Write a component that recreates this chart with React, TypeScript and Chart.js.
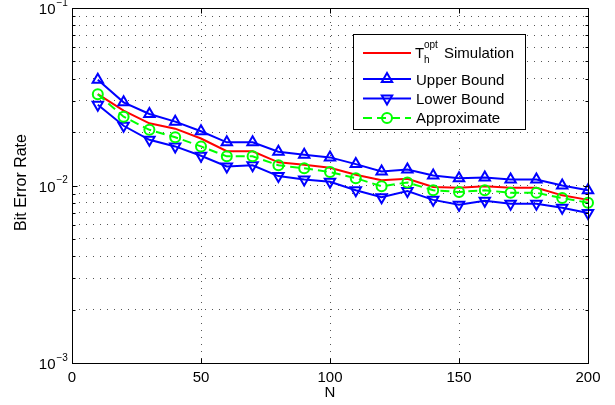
import React, { useEffect, useRef } from 'react';
import { Chart, registerables } from 'chart.js';

Chart.register(...registerables);

const nValues = [10, 20, 30, 40, 50, 60, 70, 80, 90, 100, 110, 120, 130, 140, 150, 160, 170, 180, 190, 200];
const simulation = [0.0327, 0.0264, 0.0224, 0.0209, 0.0184, 0.0156, 0.0156, 0.0135, 0.0131, 0.0126, 0.0115, 0.0107, 0.0109, 0.0098, 0.0097, 0.0099, 0.0097, 0.0097, 0.0088, 0.0083];
const upperBound = [0.0394, 0.0294, 0.0253, 0.0229, 0.0202, 0.0175, 0.0175, 0.0155, 0.0149, 0.0144, 0.0132, 0.0120, 0.0123, 0.0114, 0.0110, 0.0111, 0.0108, 0.0108, 0.0100, 0.0094];
const lowerBound = [0.0285, 0.0217, 0.0181, 0.0166, 0.0147, 0.0128, 0.0130, 0.0113, 0.0108, 0.0105, 0.0094, 0.0086, 0.0093, 0.0083, 0.0078, 0.0082, 0.0079, 0.0079, 0.0075, 0.0070];
const approximate = [0.0327, 0.0244, 0.0206, 0.0187, 0.0166, 0.0146, 0.0146, 0.0130, 0.0125, 0.0119, 0.0110, 0.0099, 0.0104, 0.0094, 0.0092, 0.0094, 0.0091, 0.0091, 0.0085, 0.0080];

const xTickValues = [0, 50, 100, 150, 200];
const yDecades = [1e-3, 1e-2, 1e-1];
const yExponentLabels = ['\u22123', '\u22122', '\u22121'];
const xAxisTitle = 'N';
const yAxisTitle = 'Bit Error Rate';
const legendLabels = ['Simulation', 'Upper Bound', 'Lower Bound', 'Approximate'];
const legendSymbol = { base: 'T', sup: 'opt', sub: 'h' };

const FONT = '"Liberation Sans", Arial, Helvetica, sans-serif';
const RED = '#ff0000';
const BLUE = '#0000ff';
const GREEN = '#00ff00';

const yGridValues: number[] = [];
for (let d = 0; d < yDecades.length - 1; d++) {
  for (let k = 1; k <= 9; k++) yGridValues.push(k * yDecades[d]);
}
yGridValues.push(yDecades[yDecades.length - 1]);

function toPoints(arr: number[]) {
  return nValues.map((n, i) => ({ x: n, y: arr[i] }));
}

function triangle(ctx: CanvasRenderingContext2D, x: number, y: number, r: number, down: boolean) {
  ctx.beginPath();
  let rad = down ? Math.PI : 0;
  for (let i = 0; i < 3; i++) {
    const px = x + Math.sin(rad) * r;
    const py = y - Math.cos(rad) * r;
    if (i === 0) ctx.moveTo(px, py);
    else ctx.lineTo(px, py);
    rad += (2 * Math.PI) / 3;
  }
  ctx.closePath();
  ctx.stroke();
}

const decorPlugin = {
  id: 'decor',
  afterDraw(chart: any) {
    const ctx: CanvasRenderingContext2D = chart.ctx;
    const area = chart.chartArea;
    const xs = chart.scales.x;
    const ys = chart.scales.y;
    ctx.save();
    // box
    ctx.strokeStyle = '#000';
    ctx.lineWidth = 1;
    ctx.setLineDash([]);
    const L = Math.round(area.left) + 0.5;
    const R = Math.round(area.right) + 0.5;
    const T = Math.round(area.top) + 0.5;
    const B = Math.round(area.bottom) + 0.5;
    ctx.strokeRect(L, T, R - L, B - T);
    // inner ticks
    ctx.beginPath();
    xTickValues.forEach((v) => {
      const px = Math.round(xs.getPixelForValue(v)) + 0.5;
      ctx.moveTo(px, B); ctx.lineTo(px, B - 5);
      ctx.moveTo(px, T); ctx.lineTo(px, T + 5);
    });
    yGridValues.forEach((v) => {
      const py = Math.round(ys.getPixelForValue(v)) + 0.5;
      const len = yDecades.includes(v) ? 5 : 3;
      ctx.moveTo(L, py); ctx.lineTo(L + len, py);
      ctx.moveTo(R, py); ctx.lineTo(R - len, py);
    });
    ctx.stroke();

    // y tick labels
    ctx.fillStyle = '#000';
    yDecades.forEach((v, i) => {
      const py = ys.getPixelForValue(v);
      ctx.font = `15px ${FONT}`;
      ctx.textAlign = 'right';
      ctx.textBaseline = 'alphabetic';
      ctx.fillText('10', 55.5, py + 6);
      ctx.font = `10px ${FONT}`;
      ctx.textAlign = 'left';
      ctx.fillText(yExponentLabels[i], 56.5, py - 2.5);
    });

    // axis titles
    ctx.font = `15px ${FONT}`;
    ctx.textAlign = 'center';
    ctx.textBaseline = 'middle';
    ctx.fillText(xAxisTitle, (area.left + area.right) / 2, 393);
    ctx.save();
    ctx.font = `16px ${FONT}`;
    ctx.translate(22, (area.top + area.bottom) / 2 - 3);
    ctx.rotate(-Math.PI / 2);
    ctx.fillText(yAxisTitle, 0, 0);
    ctx.restore();

    // legend
    const bx = 353.5, by = 34.5, bw = 172, bh = 95;
    ctx.fillStyle = '#fff';
    ctx.fillRect(bx, by, bw, bh);
    ctx.strokeStyle = '#000';
    ctx.lineWidth = 1;
    ctx.strokeRect(bx, by, bw, bh);
    const lx0 = 363, lx1 = 411, lxm = 387;
    const rowLineY = [53, 79, 98.5, 118];
    const rowBase = [58, 84.5, 104, 123];
    ctx.lineWidth = 2;
    ctx.strokeStyle = RED;
    ctx.beginPath(); ctx.moveTo(lx0, rowLineY[0]); ctx.lineTo(lx1, rowLineY[0]); ctx.stroke();
    ctx.strokeStyle = BLUE;
    ctx.beginPath(); ctx.moveTo(lx0, rowLineY[1]); ctx.lineTo(lx1, rowLineY[1]); ctx.stroke();
    triangle(ctx, lxm, rowLineY[1], 6, false);
    ctx.beginPath(); ctx.moveTo(lx0, rowLineY[2]); ctx.lineTo(lx1, rowLineY[2]); ctx.stroke();
    triangle(ctx, lxm, rowLineY[2], 6, true);
    ctx.strokeStyle = GREEN;
    ctx.setLineDash([9, 5]);
    ctx.beginPath(); ctx.moveTo(lx0, rowLineY[3]); ctx.lineTo(lx1, rowLineY[3]); ctx.stroke();
    ctx.setLineDash([]);
    ctx.beginPath(); ctx.arc(lxm, rowLineY[3], 5, 0, Math.PI * 2); ctx.stroke();
    ctx.fillStyle = '#000';
    ctx.textAlign = 'left';
    ctx.textBaseline = 'alphabetic';
    ctx.font = `15px ${FONT}`;
    ctx.fillText(legendSymbol.base, 415, rowBase[0]);
    ctx.font = `10px ${FONT}`;
    ctx.fillText(legendSymbol.sup, 424, rowBase[0] - 10);
    ctx.fillText(legendSymbol.sub, 424, rowBase[0] + 5);
    ctx.font = `15px ${FONT}`;
    ctx.fillText(legendLabels[0], 444, rowBase[0]);
    for (let i = 1; i < 4; i++) ctx.fillText(legendLabels[i], 416, rowBase[i]);
    ctx.restore();
  },
};

export default function App() {
  const ref = useRef<HTMLCanvasElement | null>(null);
  useEffect(() => {
    if (!ref.current) return;
    const chart = new Chart(ref.current, {
      type: 'line',
      data: {
        datasets: [
          {
            label: legendLabels[0],
            data: toPoints(simulation),
            borderColor: RED,
            borderWidth: 2,
            pointRadius: 0,
            fill: false,
            order: 4,
            clip: false,
          } as any,
          {
            label: legendLabels[1],
            data: toPoints(upperBound),
            borderColor: BLUE,
            borderWidth: 2,
            pointStyle: 'triangle',
            pointRadius: 6,
            pointBorderWidth: 2,
            pointBorderColor: BLUE,
            pointBackgroundColor: 'rgba(0,0,0,0)',
            fill: false,
            order: 3,
            clip: false,
          },
          {
            label: legendLabels[2],
            data: toPoints(lowerBound),
            borderColor: BLUE,
            borderWidth: 2,
            pointStyle: 'triangle',
            pointRotation: 180,
            pointRadius: 6,
            pointBorderWidth: 2,
            pointBorderColor: BLUE,
            pointBackgroundColor: 'rgba(0,0,0,0)',
            fill: false,
            order: 2,
            clip: false,
          },
          {
            label: legendLabels[3],
            data: toPoints(approximate),
            borderColor: GREEN,
            borderWidth: 2,
            borderDash: [9, 5],
            pointStyle: 'circle',
            pointRadius: 5,
            pointBorderWidth: 2,
            pointBorderColor: GREEN,
            pointBackgroundColor: 'rgba(0,0,0,0)',
            fill: false,
            order: 1,
            clip: false,
          },
        ],
      },
      options: {
        animation: false,
        responsive: false,
        maintainAspectRatio: false,
        devicePixelRatio: 1,
        layout: { padding: { top: 7, right: 27, left: 0, bottom: 0 } },
        plugins: { legend: { display: false }, tooltip: { enabled: false } },
        scales: {
          x: {
            type: 'linear',
            min: 0,
            max: 200,
            afterBuildTicks: (scale: any) => {
              scale.ticks = xTickValues.map((v) => ({ value: v }));
            },
            afterFit: (scale: any) => {
              scale.height = 42;
            },
            ticks: {
              color: '#000',
              font: { family: FONT, size: 15 },
              padding: 6,
              maxRotation: 0,
              autoSkip: false,
            },
            grid: { color: '#555', lineWidth: 1, drawTicks: false },
            border: { display: false, dash: [1, 6] },
          },
          y: {
            type: 'logarithmic',
            min: 1e-3,
            max: 1e-1,
            afterBuildTicks: (scale: any) => {
              scale.ticks = yGridValues.map((v) => ({ value: v }));
            },
            afterFit: (scale: any) => {
              scale.width = 72;
            },
            ticks: { display: false },
            grid: { color: '#555', lineWidth: 1, drawTicks: false },
            border: { display: false, dash: [1, 6] },
          },
        },
      },
      plugins: [decorPlugin],
    } as any);
    return () => chart.destroy();
  }, []);
  return (
    <div style={{ position: 'absolute', left: 0, top: 0, width: 615, height: 405, background: '#fff' }}>
      <canvas ref={ref} width={615} height={405} style={{ width: 615, height: 405, display: 'block' }} />
    </div>
  );
}
